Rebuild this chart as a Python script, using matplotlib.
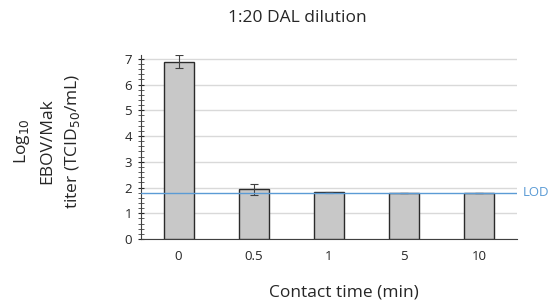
import matplotlib
matplotlib.use("Agg")
import matplotlib.pyplot as plt
from matplotlib.ticker import MultipleLocator

categories = ["0", "0.5", "1", "5", "10"]
values = [6.88, 1.93, 1.82, 1.80, 1.80]
errors = [0.25, 0.22, 0.02, 0.0, 0.0]
lod = 1.80

plt.rcParams['font.family'] = ['Open Sans', 'DejaVu Sans']

fig = plt.figure(figsize=(5.54, 3.02), dpi=100)
ax = fig.add_axes([0.2545, 0.2086, 0.933 - 0.2545, 0.818 - 0.2086])

x = list(range(len(categories)))
ax.bar(x, values, width=0.4, color='#C8C8C8', edgecolor='#2b2b2b', linewidth=1.0,
       yerr=errors, error_kw=dict(ecolor='#404040', elinewidth=0.8, capsize=3, capthick=0.8), zorder=3)
ax.axhline(lod, color='#5B9BD5', linewidth=1.0, zorder=4)
ax.text(1.015, lod, "LOD", transform=ax.get_yaxis_transform(), color='#5B9BD5',
        fontsize=9.5, va='center', ha='left')

ax.set_xlim(-0.5, len(categories) - 0.5)
ax.set_ylim(0, 7.15)
ax.set_xticks(x)
ax.set_xticklabels(categories)
ax.yaxis.set_major_locator(MultipleLocator(1))
ax.yaxis.set_minor_locator(MultipleLocator(0.2))
ax.grid(axis='y', which='major', color='#D9D9D9', linewidth=1.0, zorder=0)
ax.set_axisbelow(True)
for s in ['top', 'right']:
    ax.spines[s].set_visible(False)
ax.spines['left'].set_color('#404040')
ax.spines['bottom'].set_color('#404040')
ax.tick_params(axis='x', length=0, labelsize=9.5, pad=8, colors='#262626')
ax.tick_params(axis='y', which='major', length=5, direction='inout', labelsize=9.5, colors='#262626', pad=4)
ax.tick_params(axis='y', which='minor', length=4, direction='inout', color='#404040')

fig.text(0.537, 0.94, "1:20 DAL dilution", ha='center', va='center', fontsize=12.5, color='#262626')
fig.text(0.62, 0.033, "Contact time (min)", ha='center', va='center', fontsize=12.5, color='#262626')
ylab_lines = ["Log$_{10}$", "EBOV/Mak", "titer (TCID$_{50}$/mL)"]
ylab_x = [22, 47, 72]
for t, px in zip(ylab_lines, ylab_x):
    fig.text(px / 554, 0.533, t, rotation=90, ha='center', va='center',
             fontsize=12.5, color='#262626')

fig.savefig("out.png", dpi=100)
